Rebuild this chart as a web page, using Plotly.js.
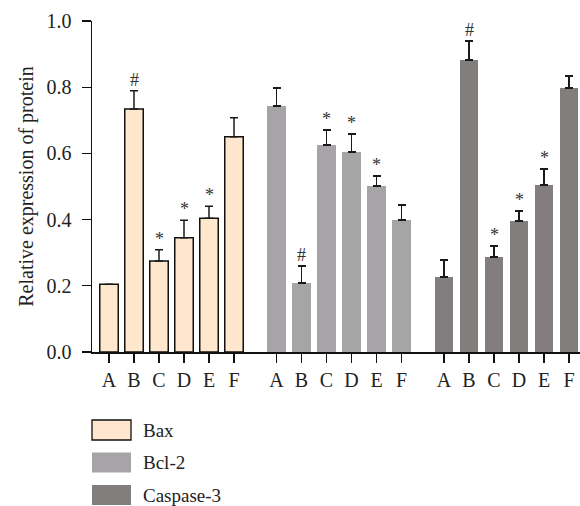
<!DOCTYPE html>
<html><head><meta charset="utf-8">
<script src="https://cdn.plot.ly/plotly-3.0.1.min.js"></script>
<style>html,body{margin:0;padding:0;background:#fff}#chart{width:580px;height:506px}</style>
</head><body><div id="chart"></div>
<script>
var categories = ["A","B","C","D","E","F"];
var seriesNames = ["Bax","Bcl-2","Caspase-3"];
var baxValues = [0.205,0.734,0.275,0.345,0.404,0.650];
var baxErrors = [0,0.055,0.034,0.053,0.036,0.058];
var baxMarks = ["","#","*","*","*",""];
var bcl2Values = [0.743,0.208,0.625,0.604,0.501,0.399];
var bcl2Errors = [0.054,0.052,0.045,0.054,0.031,0.045];
var bcl2Marks = ["","#","*","*","*",""];
var caspValues = [0.227,0.882,0.287,0.396,0.505,0.798];
var caspErrors = [0.051,0.058,0.033,0.030,0.048,0.036];
var caspMarks = ["","#","*","*","*",""];

var colors = ["#FEE7CC","#A6A4A7","#827E7D"];
var FONT = "Liberation Serif";
var groupStep = 6.7;

var allValues = [baxValues,bcl2Values,caspValues];
var allErrors = [baxErrors,bcl2Errors,caspErrors];
var allMarks = [baxMarks,bcl2Marks,caspMarks];

var traces = [], annotations = [], shapes = [], tickvals = [], ticktext = [];
for (var g=0; g<3; g++){
  var xs = categories.map(function(c,i){return i + g*groupStep;});
  xs.forEach(function(x,i){tickvals.push(x); ticktext.push(categories[i]);});
  traces.push({
    type:"bar", name:seriesNames[g], x:xs, y:allValues[g], width:0.74,
    marker:{color:colors[g], line:{color:g===0?"#111":colors[g], width:g===0?1.5:0}},
    error_y:{type:"data", symmetric:false, array:allErrors[g], arrayminus:allErrors[g].map(function(){return 0;}),
      color:"#1a1a1a", thickness:1.5, width:4},
    showlegend:false, hoverinfo:"skip"
  });
  xs.forEach(function(x,i){
    if(allMarks[g][i]){
      annotations.push({x:x, y:allValues[g][i]+allErrors[g][i], xref:"x", yref:"y",
        text:allMarks[g][i], showarrow:false, yanchor:"bottom", yshift:-1,
        font:{family:FONT, size:18, color:"#333"}});
    }
  });
}
var plotW = 488, plotH = 331, plotT = 21;
function toPY(py){return (plotT+plotH-py)/plotH;}
for (var k=0;k<3;k++){
  var cy = 430 + k*32.5;
  shapes.push({type:"rect", xref:"paper", yref:"paper",
    x0:0, x1:39/plotW, y0:toPY(cy+10), y1:toPY(cy-10),
    fillcolor:colors[k], line:{color:k===0?"#111":colors[k], width:k===0?1.3:0}});
  annotations.push({xref:"paper", yref:"paper", x:49/plotW, y:toPY(cy), xanchor:"left", yanchor:"middle",
    text:seriesNames[k], showarrow:false, font:{family:FONT, size:19, color:"#222"}});
}

var layout = {
  width:580, height:506, margin:{l:92, r:0, t:21, b:154},
  paper_bgcolor:"#fff", plot_bgcolor:"#fff", bargap:0,
  font:{family:FONT, size:20, color:"#222"},
  xaxis:{range:[-0.68,18.84], tickvals:tickvals, ticktext:ticktext, ticks:"outside", ticklen:9, tickwidth:1.3,
    tickcolor:"#111", showline:true, linecolor:"#111", linewidth:1.5, showgrid:false, zeroline:false,
    tickfont:{family:FONT, size:20, color:"#222"}, fixedrange:true},
  yaxis:{range:[0,1], dtick:0.2, tick0:0, tickformat:".1f", ticks:"outside", ticklen:9, tickwidth:1.3,
    tickcolor:"#111", showline:true, linecolor:"#111", linewidth:1.5, showgrid:false, zeroline:false,
    ticklabelstandoff:6, tickfont:{family:FONT, size:20, color:"#222"},
    title:{text:"Relative expression of protein", font:{family:FONT, size:20, color:"#222"}, standoff:7}},
  annotations:annotations, shapes:shapes, showlegend:false
};
Plotly.newPlot("chart", traces, layout, {displayModeBar:false, staticPlot:true});
</script></body></html>
